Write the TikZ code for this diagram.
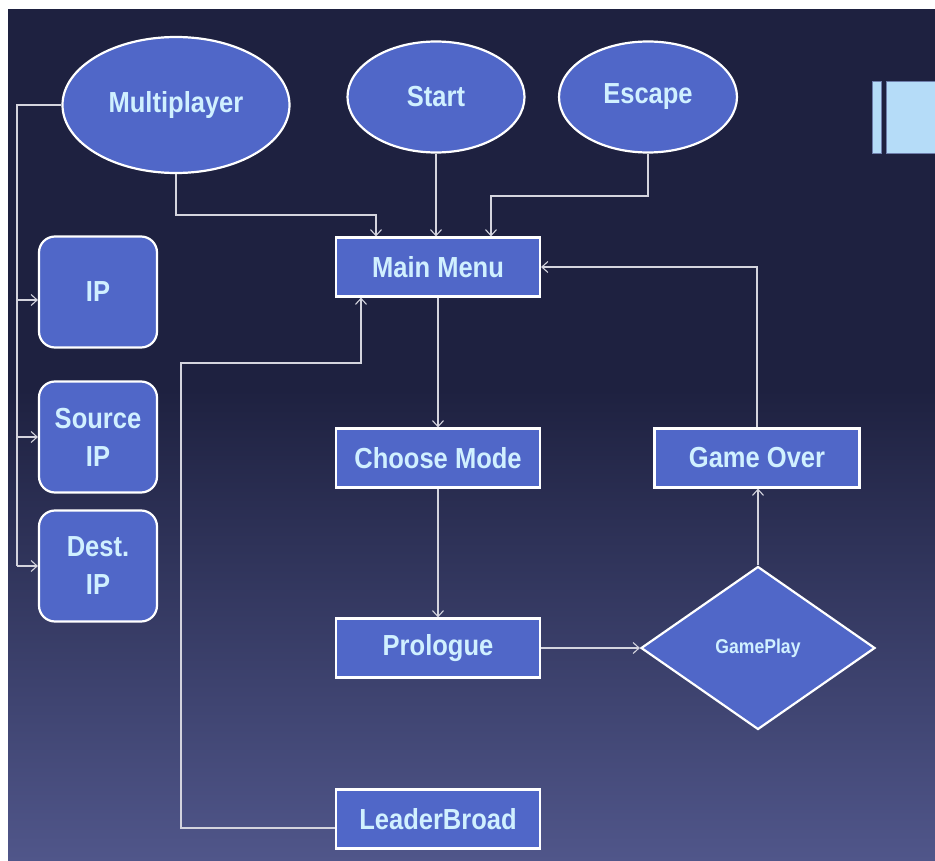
\documentclass[tikz,border=0pt]{standalone}
\usepackage{fontspec}
\newfontfamily\lab{Liberation Sans}[FakeStretch=0.88]
\usetikzlibrary{shapes.geometric,arrows.meta}
\definecolor{bgtop}{HTML}{1E2140}
\definecolor{bgbot}{HTML}{50568A}
\definecolor{nodefill}{HTML}{5067C8}
\definecolor{txt}{HTML}{D0F0FF}
\definecolor{conncol}{HTML}{D4D4DE}
\definecolor{lblue}{HTML}{B5DCF8}
\tikzset{
  box/.style={draw=white,line width=2.2pt,fill=nodefill,text=txt,font=\lab\bfseries\fontsize{29}{38}\selectfont,align=center,inner sep=0pt},
  rectbox/.style={box,rectangle,minimum width=204pt,minimum height=59pt},
  roundbox/.style={box,rectangle,rounded corners=16pt,minimum width=118pt,minimum height=111pt},
  ovalbox/.style={box,ellipse},
  gamebox/.style={box,diamond,minimum width=234pt,minimum height=163pt,aspect=1.435,font=\lab\bfseries\fontsize{20}{23}\selectfont},
  conn/.style={draw=conncol,line width=1.2pt},
  arr/.style={conn,-{Straight Barb[length=6pt,width=11pt,line width=1.1pt]}}
}
\begin{document}
\begin{tikzpicture}[x=1pt,y=-1pt]
\useasboundingbox (0,0) rectangle (935,861);
\fill[white] (0,0) rectangle (935,861);
\fill[bgtop] (8,9) rectangle (935,390);
\shade[top color=bgtop,bottom color=bgbot] (8,389) rectangle (935,861);
% top-right light blue bars
\fill[lblue,draw=bgbot!70!lblue,line width=0.6pt] (872,81) rectangle (881,153);
\fill[lblue,draw=bgbot!70!lblue,line width=0.6pt] (886,81) rectangle (936,153);
% nodes
\node[ovalbox,minimum width=227pt,minimum height=136pt] (mp) at (176,105) {Multiplayer};
\node[ovalbox,minimum width=177pt,minimum height=111pt] (st) at (436,97) {Start};
\node[ovalbox,minimum width=178pt,minimum height=111pt] (es) at (648,97) {Escape};
\node[rectbox] (mm) at (438,267) {Main Menu};
\node[rectbox] (cm) at (438,458) {Choose Mode};
\node[rectbox,minimum width=205pt] (go) at (757,458) {Game Over};
\node[rectbox] (pr) at (438,648) {Prologue};
\node[rectbox] (lb) at (438,819) {LeaderBroad};
\node[gamebox] (gp) at (758,648) {GamePlay};
\node[roundbox] (ip) at (98,292) {IP};
\node[roundbox] (sip) at (98,437) {Source\\IP};
\node[roundbox] (dip) at (98,566) {Dest.\\IP};
\coordinate (bus) at (17,105);
% connectors
\draw[conn] (mp.west) -- (bus) -- (bus |- dip.west);
\draw[arr] (bus |- 0,300) -- (ip.west |- 0,300);
\draw[arr] (bus |- sip.west) -- (sip.west);
\draw[arr] (bus |- dip.west) -- (dip.west);
\draw[arr] (mp.south) -- (mp.south |- 0,215) -| ([xshift=-62pt]mm.north);
\draw[arr] (st.south) -- (st.south |- mm.north);
\draw[arr] (es.south) -- (es.south |- 0,196) -| ([xshift=53pt]mm.north);
\draw[arr] (mm.south) -- (cm.north);
\draw[arr] (cm.south) -- (pr.north);
\draw[arr] (pr.east) -- (gp.west);
\draw[arr] (gp.north) -- (gp.north |- go.south);
\draw[arr] (go.north) |- (mm.east);
\draw[arr] ([yshift=-9pt]lb.west) -| (181,363) -| ([xshift=-77pt]mm.south);
\end{tikzpicture}
\end{document}
